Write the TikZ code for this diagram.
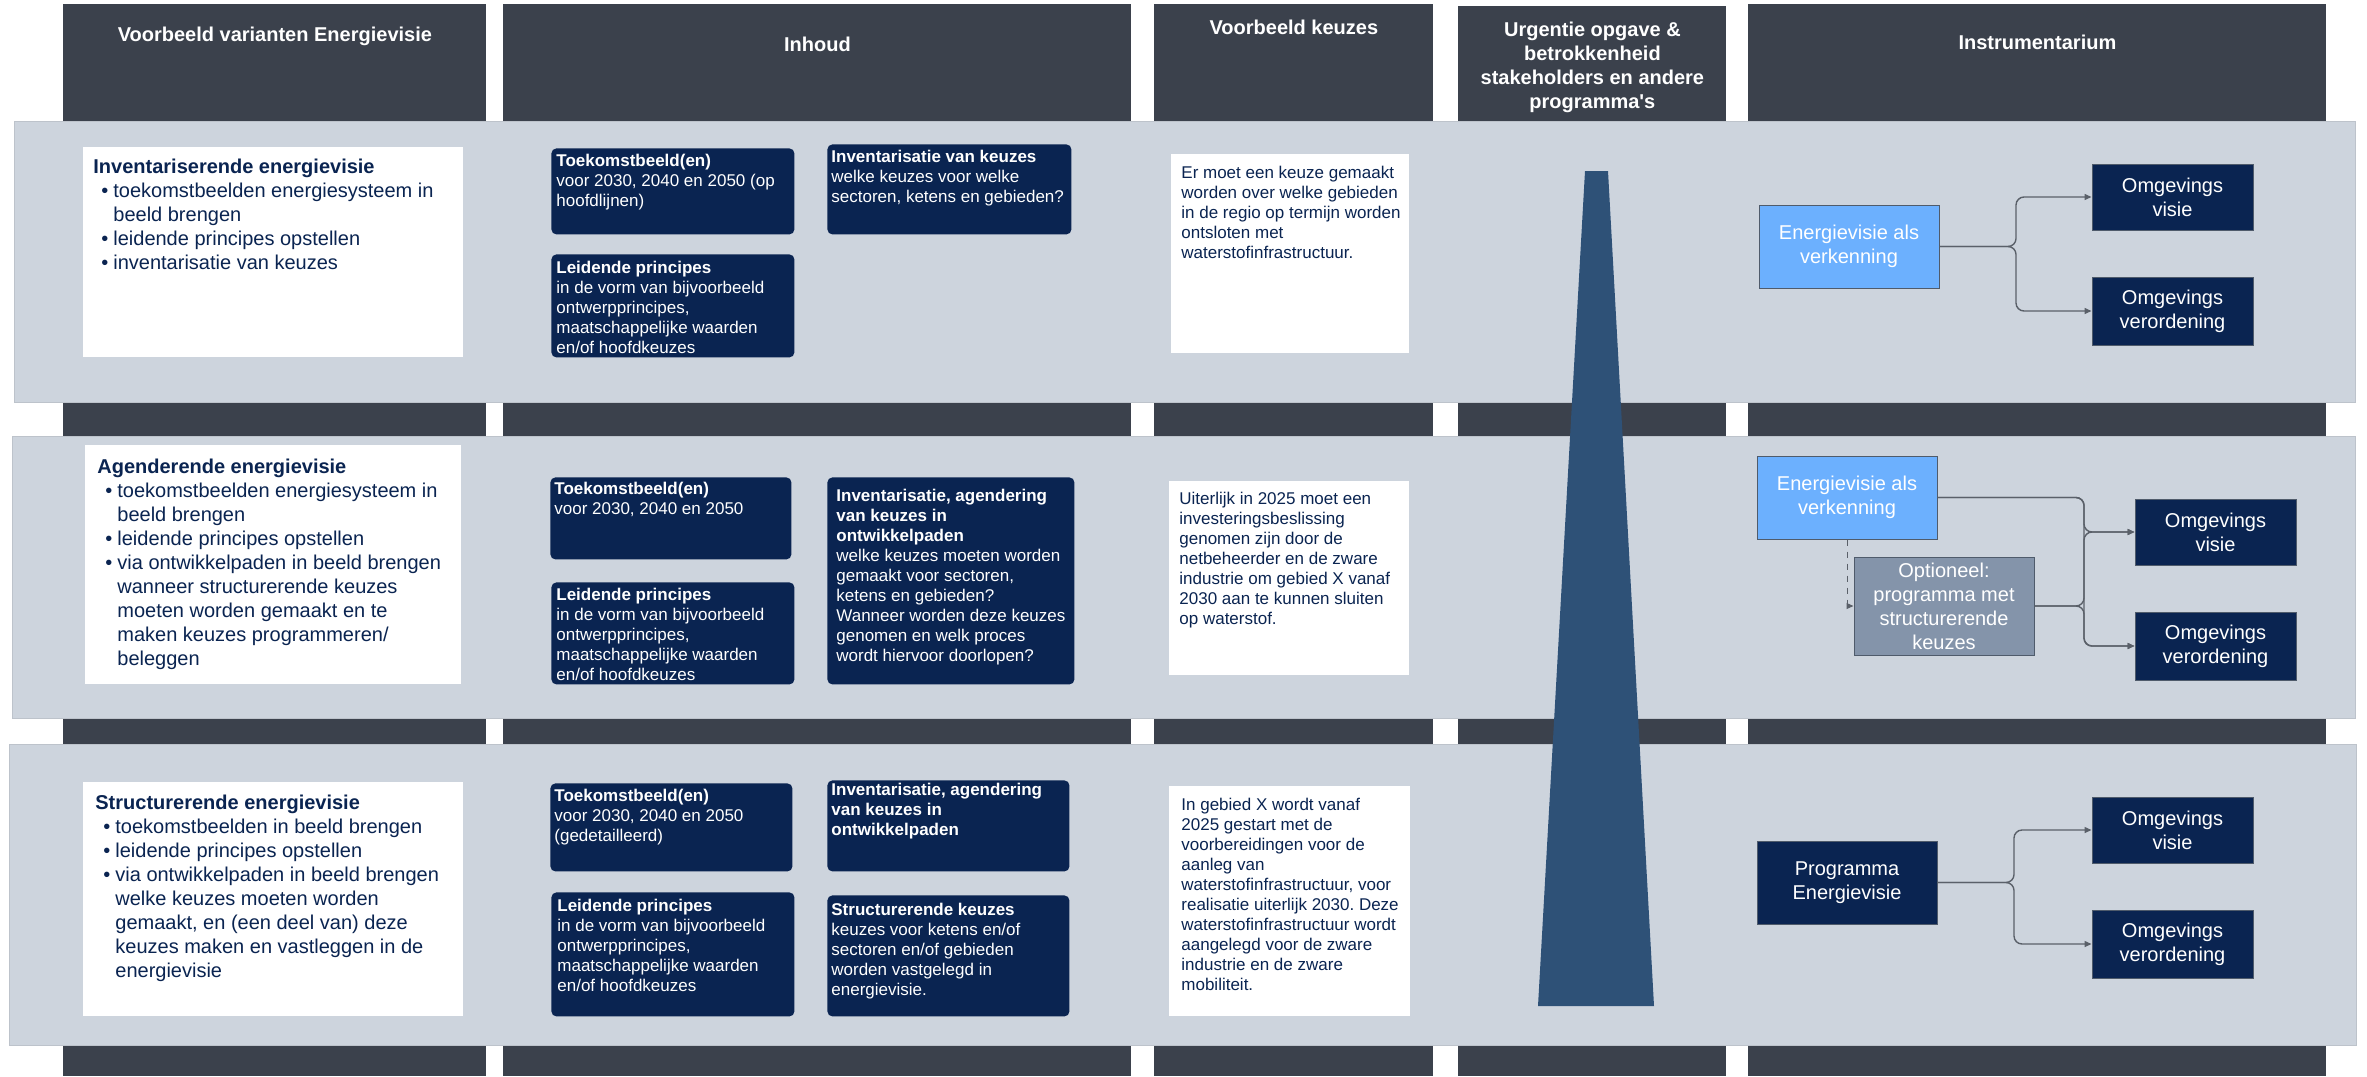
\documentclass[tikz,border=0pt]{standalone}
\usepackage{fontspec}
\setmainfont{Liberation Sans}
\usetikzlibrary{arrows.meta}
\frenchspacing

\definecolor{headgray}{HTML}{3B414C}
\definecolor{bandgray}{HTML}{CDD4DD}
\definecolor{navy}{HTML}{0A2451}
\definecolor{skyblue}{HTML}{6CB0FE}
\definecolor{slate}{HTML}{8494AA}
\definecolor{funnel}{HTML}{2E5177}
\definecolor{linkgray}{HTML}{5A6069}
\definecolor{edgegray}{HTML}{4F5B6B}

\newcommand\boxtext[5]{\parbox[c][#2][t]{#1}{\raggedright\leftskip=#3\rule{0pt}{#4}#5}}
\newcommand\headtext[4]{\parbox[c][#2][t]{#1}{\centering\rule{0pt}{#3}#4}}
\newcommand\itm{\makebox[10pt][l]{\hspace{4pt}\textbullet}}
\newcommand\ind{\hspace*{10pt}}

\begin{document}
\begin{tikzpicture}[x=0.5pt,y=-0.5pt,
    column/.style={fill=headgray,text=white,anchor=north west,inner sep=0pt,font=\fontsize{10}{12}\selectfont\bfseries},
    band/.style={fill=bandgray,draw=bandgray!92!black,line width=0.3pt,anchor=north west,inner sep=0pt},
    variant/.style={fill=white,text=navy,anchor=north west,inner sep=0pt,font=\fontsize{10}{12}\selectfont},
    card/.style={fill=navy,text=white,rounded corners=2.5pt,anchor=north west,inner sep=0pt,font=\fontsize{8.5}{10}\selectfont},
    note/.style={fill=white,text=navy,anchor=north west,inner sep=0pt,font=\fontsize{8.5}{10}\selectfont},
    tool/.style={draw=edgegray,line width=0.5pt,text=white,align=center,inner sep=0pt,minimum width=90pt,minimum height=41.5pt,font=\fontsize{10}{12}\selectfont},
    law/.style={tool,fill=navy,minimum width=80.5pt,minimum height=33pt},
    link/.style={draw=linkgray,line width=0.7pt,rounded corners=4pt,-{Triangle[length=3.5pt,width=3pt]}}]

    \fill[white] (0,0) rectangle (2367,1076);

    \node[column] (h1) at (63,4) {\headtext{211.5pt}{536pt}{18.5pt}{Voorbeeld varianten Energievisie}};
    \node[column] (h2) at (503,4) {\headtext{314pt}{536pt}{23.5pt}{Inhoud}};
    \node[column] (h3) at (1154,4) {\headtext{139.5pt}{536pt}{15pt}{Voorbeeld keuzes}};
    \node[column] (h4) at (1458,6) {\headtext{134pt}{535pt}{15pt}{Urgentie opgave \&\\betrokkenheid\\stakeholders en andere\\programma\textquotesingle s}};
    \node[column] (h5) at (1748,4) {\headtext{289pt}{536pt}{22.5pt}{Instrumentarium}};

    \node[band, minimum width=1170.5pt, minimum height=140.5pt] (b1) at (14,121) {};
    \node[band, minimum width=1171.5pt, minimum height=141pt] (b2) at (12,436) {};
    \node[band, minimum width=1173.5pt, minimum height=150.5pt] (b3) at (9,744) {};

    \fill[funnel] (1585,171) -- (1608,171) -- (1654,1006) -- (1538,1006) -- cycle;

    \node[variant] (v1) at (83,147) {\boxtext{190pt}{105pt}{5pt}{13pt}{\textbf{Inventariserende energievisie}\\
        \itm toekomstbeelden energiesysteem in\\
        \ind beeld brengen\\
        \itm leidende principes opstellen\\
        \itm inventarisatie van keuzes}};
    \node[card] (c11) at (551,148) {\boxtext{121.5pt}{43pt}{2.5pt}{9pt}{\textbf{Toekomstbeeld(en)}\\voor 2030, 2040 en 2050 (op\\hoofdlijnen)}};
    \node[card] (c12) at (551,254) {\boxtext{121.5pt}{51.5pt}{2.5pt}{9.5pt}{\textbf{Leidende principes}\\in de vorm van bijvoorbeeld\\ontwerpprincipes,\\maatschappelijke waarden\\en/of hoofdkeuzes}};
    \node[card] (c13) at (827,144) {\boxtext{122pt}{45pt}{2pt}{9pt}{\textbf{Inventarisatie van keuzes}\\welke keuzes voor welke\\sectoren, ketens en gebieden?}};
    \node[note] (n1) at (1171,154) {\boxtext{119pt}{99.5pt}{5pt}{12pt}{Er moet een keuze gemaakt\\worden over welke gebieden\\in de regio op termijn worden\\ontsloten met\\waterstofinfrastructuur.}};

    \node[variant] (v2) at (85,445) {\boxtext{188pt}{119.5pt}{6pt}{14pt}{\textbf{Agenderende energievisie}\\
        \itm toekomstbeelden energiesysteem in\\
        \ind beeld brengen\\
        \itm leidende principes opstellen\\
        \itm via ontwikkelpaden in beeld brengen\\
        \ind wanneer structurerende keuzes\\
        \ind moeten worden gemaakt en te\\
        \ind maken keuzes programmeren/\\
        \ind beleggen}};
    \node[card] (c21) at (550,477) {\boxtext{120.5pt}{41pt}{2pt}{8.5pt}{\textbf{Toekomstbeeld(en)}\\voor 2030, 2040 en 2050}};
    \node[card] (c22) at (551,582) {\boxtext{121.5pt}{51pt}{2.5pt}{9pt}{\textbf{Leidende principes}\\in de vorm van bijvoorbeeld\\ontwerpprincipes,\\maatschappelijke waarden\\en/of hoofdkeuzes}};
    \node[card] (c23) at (827,477) {\boxtext{123.5pt}{103.5pt}{4.5pt}{12pt}{\textbf{Inventarisatie, agendering}\\\textbf{van keuzes in}\\\textbf{ontwikkelpaden}\\welke keuzes moeten worden\\gemaakt voor sectoren,\\ketens en gebieden?\\Wanneer worden deze keuzes\\genomen en welk proces\\wordt hiervoor doorlopen?}};
    \node[note] (n2) at (1169,481) {\boxtext{120pt}{97pt}{5pt}{11.5pt}{Uiterlijk in 2025 moet een\\investeringsbeslissing\\genomen zijn door de\\netbeheerder en de zware\\industrie om gebied X vanaf\\2030 aan te kunnen sluiten\\op waterstof.}};

    \node[variant] (v3) at (83,782) {\boxtext{190pt}{117pt}{6pt}{13.5pt}{\textbf{Structurerende energievisie}\\
        \itm toekomstbeelden in beeld brengen\\
        \itm leidende principes opstellen\\
        \itm via ontwikkelpaden in beeld brengen\\
        \ind welke keuzes moeten worden\\
        \ind gemaakt, en (een deel van) deze\\
        \ind keuzes maken en vastleggen in de\\
        \ind energievisie}};
    \node[card] (c31) at (550,783) {\boxtext{121pt}{44pt}{2pt}{9pt}{\textbf{Toekomstbeeld(en)}\\voor 2030, 2040 en 2050\\(gedetailleerd)}};
    \node[card] (c32) at (551,892) {\boxtext{121.5pt}{62pt}{3pt}{9.5pt}{\textbf{Leidende principes}\\in de vorm van bijvoorbeeld\\ontwerpprincipes,\\maatschappelijke waarden\\en/of hoofdkeuzes}};
    \node[card] (c33) at (827,780) {\boxtext{121pt}{45.5pt}{2pt}{7.5pt}{\textbf{Inventarisatie, agendering}\\\textbf{van keuzes in}\\\textbf{ontwikkelpaden}}};
    \node[card] (c34) at (827,895) {\boxtext{121pt}{60.5pt}{2pt}{10pt}{\textbf{Structurerende keuzes}\\keuzes voor ketens en/of\\sectoren en/of gebieden\\worden vastgelegd in\\energievisie.}};
    \node[note] (n3) at (1169,786) {\boxtext{120.5pt}{115pt}{6pt}{12pt}{In gebied X wordt vanaf\\2025 gestart met de\\voorbereidingen voor de\\aanleg van\\waterstofinfrastructuur, voor\\realisatie uiterlijk 2030. Deze\\waterstofinfrastructuur wordt\\aangelegd voor de zware\\industrie en de zware\\mobiliteit.}};

    \node[tool,fill=skyblue] (ev1) at (1849,246.5) {Energievisie als\\verkenning};
    \node[law] (ov1) at (2172.5,197) {Omgevings\\visie};
    \node[law,minimum height=34pt] (vo1) at (2172.5,311) {Omgevings\\verordening};
    \coordinate (j1) at (2016,246.5);
    \draw[link] (ev1.east) -- (j1) |- (ov1.west);
    \draw[link] (ev1.east) -- (j1) |- (vo1.west);

    \node[tool,fill=skyblue] (ev2) at (1847,497.5) {Energievisie als\\verkenning};
    \node[tool,fill=slate,minimum height=49pt] (op2) at (1944,606) {Optioneel:\\programma met\\structurerende\\keuzes};
    \node[law] (ov2) at (2215.5,532) {Omgevings\\visie};
    \node[law,minimum height=34pt] (vo2) at (2215.5,646) {Omgevings\\verordening};
    \coordinate (j2) at (2084,497.5);
    \draw[link] (ev2.east) -- (j2) |- (ov2.west);
    \draw[link] (ev2.east) -- (j2) |- (vo2.west);
    \draw[link] (op2.east) -- (op2.east -| j2) |- (ov2.west);
    \draw[link] (op2.east) -- (op2.east -| j2) |- (vo2.west);
    \draw[link,sharp corners,dashed,line width=0.5pt] (ev2.south) |- (op2.west);

    \node[tool,fill=navy] (pe3) at (1847,882.5) {Programma\\Energievisie};
    \node[law] (ov3) at (2172.5,830) {Omgevings\\visie};
    \node[law,minimum height=34pt] (vo3) at (2172.5,944) {Omgevings\\verordening};
    \coordinate (j3) at (2014,882.5);
    \draw[link] (pe3.east) -- (j3) |- (ov3.west);
    \draw[link] (pe3.east) -- (j3) |- (vo3.west);

\end{tikzpicture}
\end{document}
